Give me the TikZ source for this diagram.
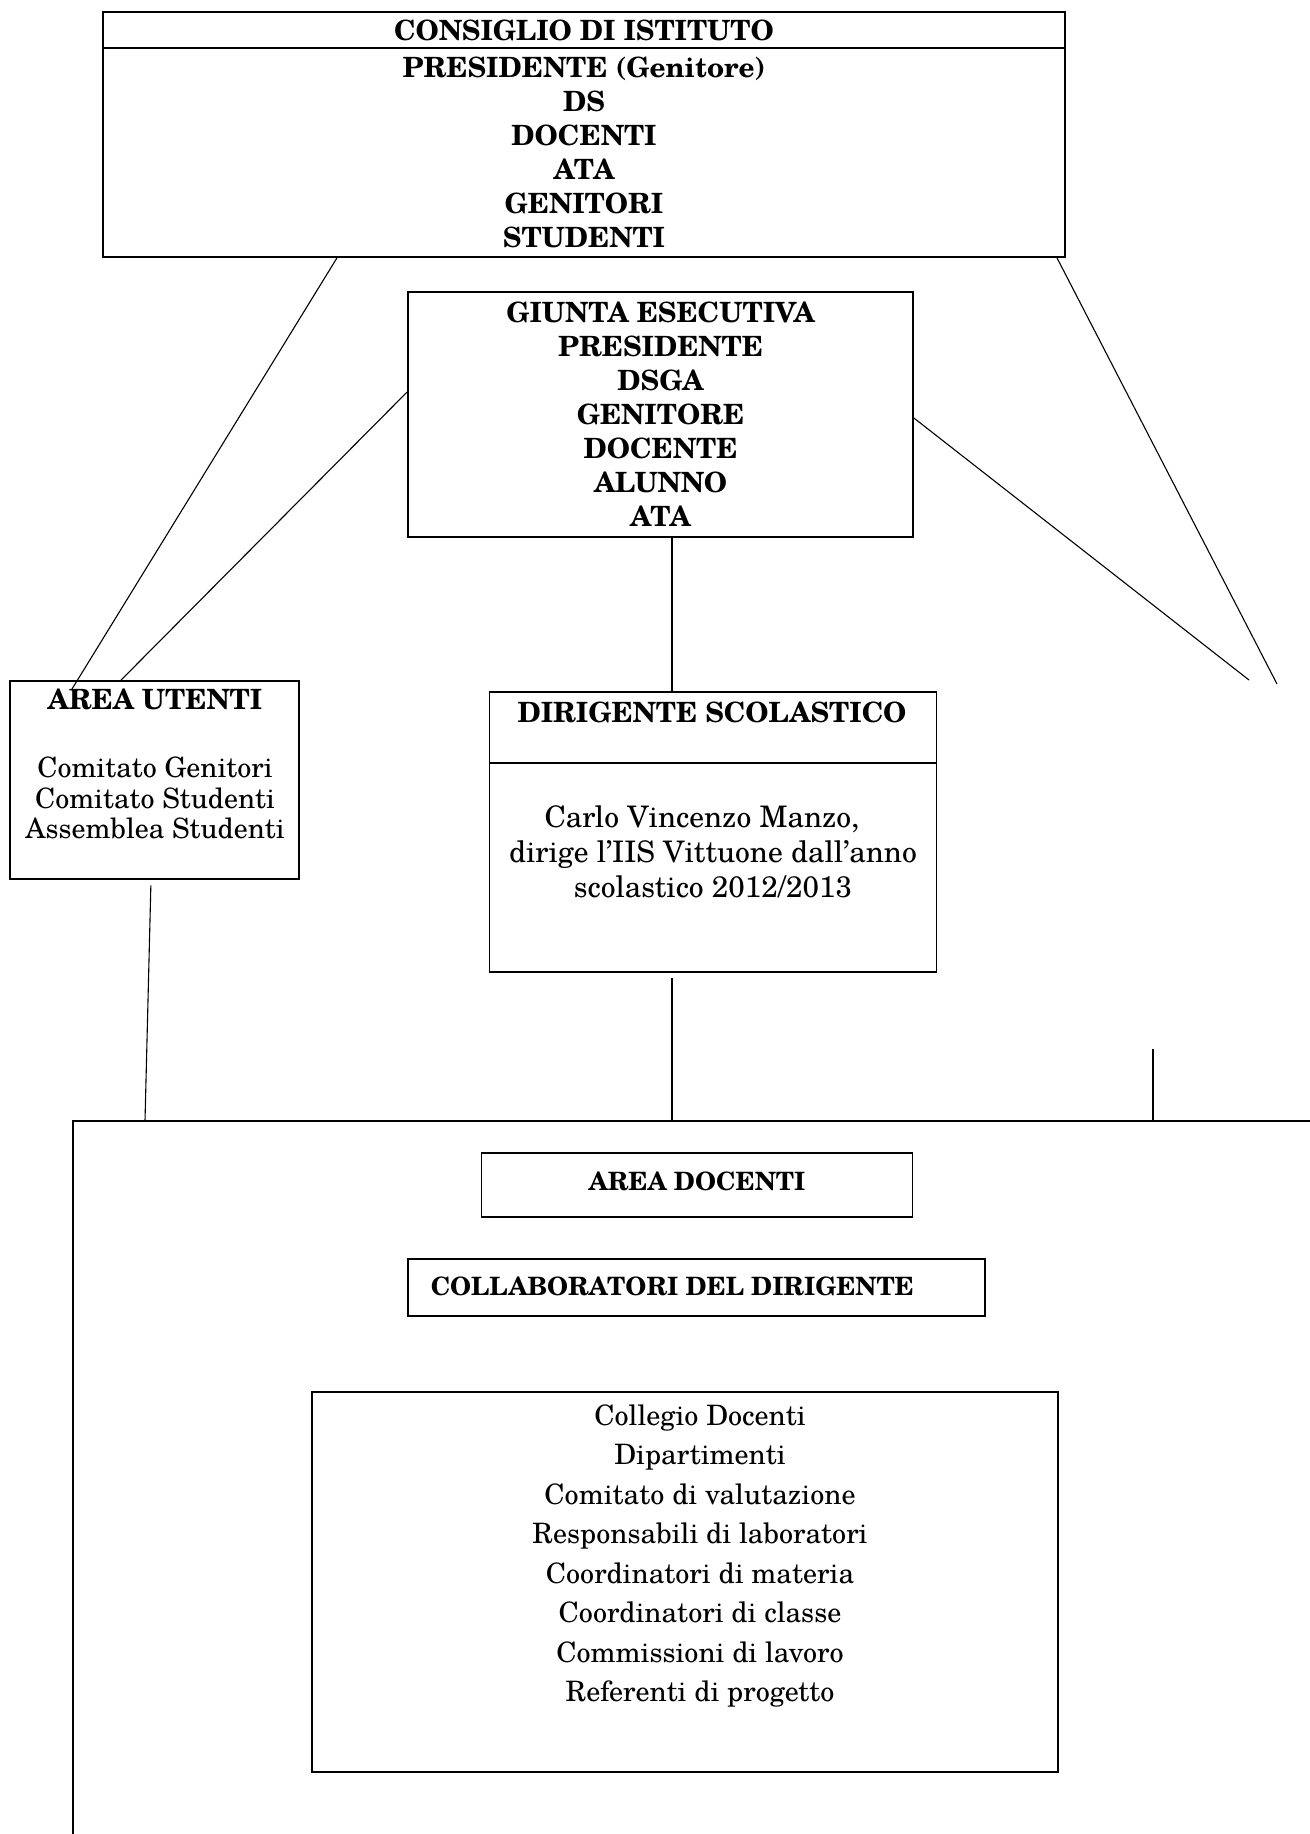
\documentclass[tikz,border=0pt]{standalone}
\usepackage{fontspec}
\setmainfont{texgyreschola}[Extension=.otf, UprightFont=*-regular, BoldFont=*-bold]
\usetikzlibrary{positioning}

\tikzset{
  box/.style={draw, line width=0.8pt, inner sep=0pt},
  size/.style 2 args={minimum width=#1*0.016cm, minimum height=#2*0.016cm},
  head/.style={font=\bfseries\fontsize{12.7}{15.5}\selectfont, align=center},
  subhead/.style={font=\bfseries\fontsize{11.5}{14}\selectfont, align=center},
  plain/.style={font=\fontsize{12.8}{14}\selectfont, align=center},
  link/.style={line width=0.5pt},
  gap/.style={link, shorten <=2.5pt},
}

\begin{document}
\begin{tikzpicture}[x=0.016cm, y=-0.016cm]
  \useasboundingbox (0,0) rectangle (1310,1834);

  % Boxes
  \node[box, size={962}{36}, head]  (cdihead) at (584,30)    {CONSIGLIO DI ISTITUTO};
  \node[box, size={962}{209}, head] (cdibody) at (584,152.5)
    {PRESIDENTE (Genitore)\\DS\\DOCENTI\\ATA\\GENITORI\\STUDENTI};
  \node[box, size={505}{245}, head] (giunta) at (660.5,414.5)
    {GIUNTA ESECUTIVA\\PRESIDENTE\\DSGA\\GENITORE\\DOCENTE\\ALUNNO\\ATA};

  \node[box, size={289}{198}] (au) at (154.5,780) {};
  \node[head] (autitle) at (155,699) {AREA UTENTI};
  \node[plain, font=\fontsize{12.75}{13.9}\selectfont] (aulist) at (155,798)
    {Comitato Genitori\\Comitato Studenti\\Assemblea Studenti};

  \node[box, size={447}{71}]  (dshead) at (713,727.5) {};
  \node[box, size={447}{209}] (dsbody) at (713,867.5) {};
  \node[head] (dstitle) at (712,712) {DIRIGENTE SCOLASTICO};
  \node[plain, font=\fontsize{13.5}{15.9}\selectfont] (dstext) at (713,852)
    {Carlo Vincenzo Manzo,\hspace*{10pt}\\dirige l'IIS Vittuone dall'anno\\scolastico 2012/2013};

  \node[box, size={431}{64}] (adoc) at (697,1185) {};
  \node[subhead] (adoctxt) at (697,1181) {AREA DOCENTI};
  \node[box, size={577}{57}] (collab) at (696.5,1287.5) {};
  \node[subhead, anchor=west] (collabtxt) at (423,1286) {COLLABORATORI DEL DIRIGENTE};

  \node[box, size={746}{380}] (organi) at (685,1582) {};
  \node[plain, font=\fontsize{12.8}{18}\selectfont] (organitxt) at (700,1556)
    {Collegio Docenti\\Dipartimenti\\Comitato di valutazione\\Responsabili di laboratori\\
     Coordinatori di materia\\Coordinatori di classe\\Commissioni di lavoro\\Referenti di progetto};

  % Area docenti frame
  \coordinate (frame) at (73,1121);
  \draw[box] (73,1834) -- (frame) -- (1310,1121);

  % Free ends
  \coordinate (rend1) at (1249,680);
  \coordinate (rend2) at (1277,684);
  \coordinate (rtop)  at (1153,1049);

  % Links
  \draw[link] (cdibody.south -| 337,0) -- (72,689);
  \draw[link] (giunta.west |- 0,392) -- (au.north -| 121,0);
  \draw[link] (giunta.south -| 672,0) -- (dshead.north -| 672,0);
  \draw[link] (giunta.east |- 0,418) -- (rend1);
  \draw[link] (cdibody.south -| 1057,0) -- (rend2);
  \draw[gap]  (au.south -| 151,0) -- (frame -| 145,0);
  \draw[gap]  (dsbody.south -| 672,0) -- (frame -| 672,0);
  \draw[link] (rtop) -- (frame -| rtop);

\end{tikzpicture}
\end{document}
